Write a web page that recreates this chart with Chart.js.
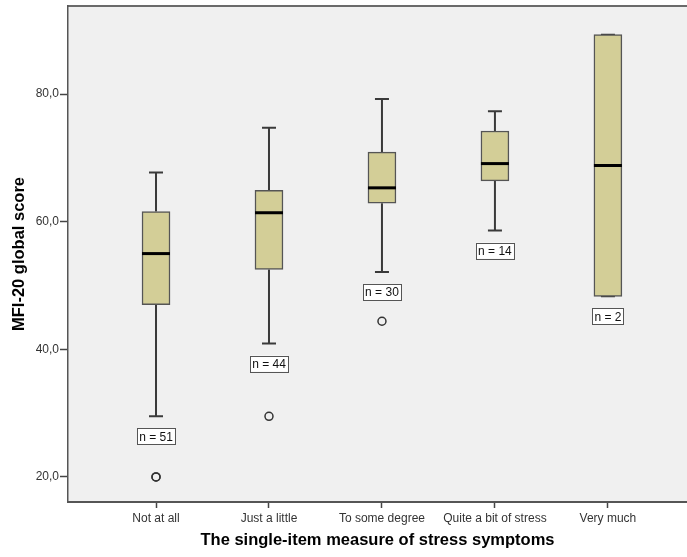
<!DOCTYPE html>
<html>
<head>
<meta charset="utf-8">
<script src="https://cdn.jsdelivr.net/npm/chart.js@4"></script>
<style>
    body { margin: 0; background: #fff; }
    #wrap { width: 687px; height: 557px; }
</style>
</head>
<body>
<div id="wrap"><canvas id="stress-box-canvas"></canvas></div>
<script>
// values
const categories = ['Not at all', 'Just a little', 'To some degree', 'Quite a bit of stress', 'Very much']
const whiskerLow = [29.5, 40.9, 52.1, 58.6, 48.3]
const q1 = [47.0, 52.5, 62.9, 66.4, 48.3]
const medians = [55.0, 61.4, 65.3, 69.1, 68.8]
const q3 = [61.6, 64.9, 70.9, 74.2, 89.3]
const whiskerHigh = [67.7, 74.7, 79.2, 77.3, 89.3]
const counts = [51, 44, 30, 14, 2]
const outlierGroup = [1, 1, 2, 3]
const outlierValue = [20.0, 20.0, 29.5, 44.4]
const yTicks = [20, 40, 60, 80]

const FONT = "'Liberation Sans', Arial, sans-serif"

const boxExtras = {
    id: 'boxExtras',
    beforeDraw(chart) {
        const {ctx, chartArea: a} = chart
        ctx.save()
        ctx.fillStyle = '#F0F0F0'
        ctx.fillRect(a.left, a.top, a.right - a.left, a.bottom - a.top)
        ctx.strokeStyle = '#6a6a6a'
        ctx.lineWidth = 2
        ctx.beginPath()
        ctx.moveTo(a.left, a.top)
        ctx.lineTo(a.right, a.top)
        ctx.stroke()
        ctx.restore()
    },
    beforeDatasetsDraw(chart) {
        const {ctx, scales: {x, y}} = chart
        ctx.save()
        ctx.strokeStyle = '#3a3a3a'
        ctx.lineWidth = 2
        categories.forEach((c, i) => {
            const px = x.getPixelForValue(i + 1)
            const hi = y.getPixelForValue(whiskerHigh[i])
            const lo = y.getPixelForValue(whiskerLow[i])
            ctx.beginPath()
            ctx.moveTo(px, y.getPixelForValue(q3[i]))
            ctx.lineTo(px, hi)
            ctx.moveTo(px, y.getPixelForValue(q1[i]))
            ctx.lineTo(px, lo)
            ctx.moveTo(px - 7, hi)
            ctx.lineTo(px + 7, hi)
            ctx.moveTo(px - 7, lo)
            ctx.lineTo(px + 7, lo)
            ctx.stroke()
        })
        ctx.restore()
    },
    afterDatasetsDraw(chart) {
        const {ctx, scales: {x, y}} = chart
        ctx.save()
        // medians
        ctx.strokeStyle = '#000'
        ctx.lineWidth = 3
        categories.forEach((c, i) => {
            const px = x.getPixelForValue(i + 1)
            const py = y.getPixelForValue(medians[i])
            ctx.beginPath()
            ctx.moveTo(px - 14, py)
            ctx.lineTo(px + 14, py)
            ctx.stroke()
        })
        // n = labels under the lower whisker
        ctx.font = '12px ' + FONT
        ctx.textAlign = 'center'
        ctx.textBaseline = 'middle'
        categories.forEach((c, i) => {
            const txt = 'n = ' + counts[i]
            const px = x.getPixelForValue(i + 1)
            const py = y.getPixelForValue(whiskerLow[i]) + 20
            const w = ctx.measureText(txt).width + 4
            ctx.fillStyle = '#fff'
            ctx.fillRect(px - w / 2, py - 8, w, 16)
            ctx.strokeStyle = '#555'
            ctx.lineWidth = 1
            ctx.strokeRect(Math.round(px - w / 2) + 0.5, Math.round(py - 8) + 0.5, Math.round(w), 16)
            ctx.fillStyle = '#111'
            ctx.fillText(txt, px, py + 1)
        })
        ctx.restore()
    }
}

const canvas = document.querySelector('#stress-box-canvas')

const stressChart = new Chart(canvas, {
    type: 'bar',
    data: {
        datasets: [{
            label: 'IQR',
            data: categories.map((c, i) => ({x: i + 1, y: [q1[i], q3[i]]})),
            backgroundColor: '#D3CE97',
            borderColor: '#555',
            borderWidth: 1.5,
            borderSkipped: false,
            barThickness: 28
        }, {
            type: 'scatter',
            label: 'Outliers',
            data: outlierValue.map((v, i) => ({x: outlierGroup[i], y: v})),
            pointStyle: 'circle',
            pointRadius: 4,
            backgroundColor: 'rgba(0,0,0,0)',
            borderColor: '#333',
            borderWidth: 1.5
        }]
    },
    options: {
        responsive: true,
        maintainAspectRatio: false,
        animation: false,
        layout: {autoPadding: false, padding: {top: 6, right: 0, left: 0, bottom: 0}},
        plugins: {
            legend: {display: false},
            tooltip: {enabled: false}
        },
        scales: {
            x: {
                type: 'linear',
                min: 0.221,
                max: 5.70,
                offset: false,
                grid: {offset: false, drawOnChartArea: false, drawTicks: true, tickLength: 6, tickColor: '#444', tickWidth: 1.5},
                border: {color: '#555', width: 2},
                afterBuildTicks: scale => { scale.ticks = categories.map((c, i) => ({value: i + 1})) },
                afterFit: scale => {
                    scale.height = 55
                    scale.paddingLeft = 0
                    scale.paddingRight = 0
                },
                ticks: {
                    autoSkip: false,
                    maxRotation: 0,
                    padding: 3,
                    color: '#333',
                    font: {family: FONT, size: 12},
                    callback: v => categories[v - 1]
                },
                title: {
                    display: true,
                    text: 'The single-item measure of stress symptoms',
                    color: '#000',
                    font: {family: FONT, size: 16.5, weight: 'bold'},
                    padding: {top: 0, bottom: 7}
                }
            },
            y: {
                min: 16.08,
                max: 93.79,
                beginAtZero: false,
                grid: {drawOnChartArea: false, drawTicks: true, tickLength: 8, tickColor: '#444', tickWidth: 1.5},
                border: {color: '#555', width: 1.5},
                afterBuildTicks: scale => { scale.ticks = yTicks.map(v => ({value: v})) },
                afterFit: scale => {
                    scale.width = 68
                    scale.paddingTop = 0
                    scale.paddingBottom = 0
                },
                ticks: {
                    padding: 1,
                    color: '#333',
                    font: {family: FONT, size: 12},
                    callback: v => v.toFixed(1).replace('.', ',')
                },
                title: {
                    display: true,
                    text: 'MFI-20 global score',
                    color: '#000',
                    font: {family: FONT, size: 16.5, weight: 'bold'},
                    padding: {top: 10, bottom: 0}
                }
            }
        }
    },
    plugins: [boxExtras]
})
</script>
</body>
</html>
